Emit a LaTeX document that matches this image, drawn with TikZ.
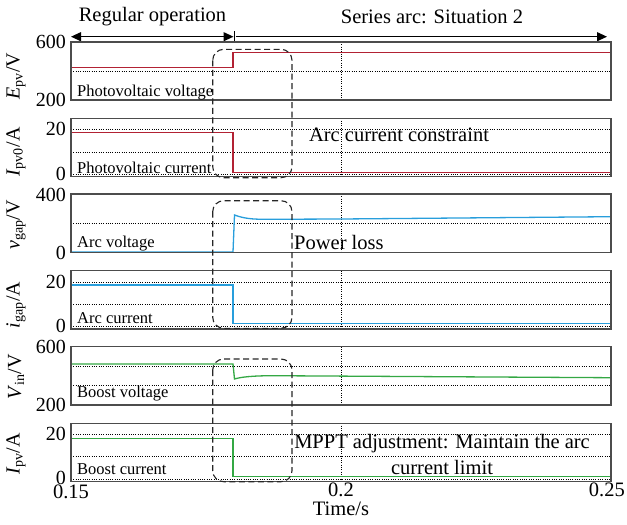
\documentclass[tikz,border=0pt]{standalone}
\usepackage{fontspec}
\setmainfont{Liberation Serif}
\usetikzlibrary{arrows.meta}

\tikzset{
  panel/.style={draw=black!70, line width=1.1pt},
  gridln/.style={black, line width=0.7pt, dash pattern=on 1pt off 1.3pt},
  sig/.style={line width=1.3pt},
  hilite/.style={draw=black!85, line width=1.1pt, dash pattern=on 6pt off 3.5pt, rounded corners=11pt},
  ticklab/.style={anchor=east, inner sep=0pt, font=\fontsize{20}{22}\selectfont},
  ylab/.style={rotate=90, inner sep=0pt, font=\fontsize{20}{22}\selectfont},
  inlab/.style={anchor=west, inner sep=0pt, font=\fontsize{16.5}{18}\selectfont},
  bigtext/.style={inner sep=0pt, font=\fontsize{20.5}{23}\selectfont},
  span/.style={line width=1.2pt, -{Triangle[length=10pt,width=9pt]}}
}
\definecolor{sigred}{RGB}{178,34,52}
\definecolor{sigblue}{RGB}{40,158,220}
\definecolor{siggreen}{RGB}{52,168,68}

\newcommand{\qty}[3]{\textit{#1}\textsubscript{#2}/#3}

\begin{document}
\begin{tikzpicture}[x=1pt, y=-1pt]
\useasboundingbox (0,0) rectangle (627,525);

% ---- phase arrows and titles
\node[bigtext] (treg) at (152.5,17) {Regular operation};
\node[bigtext] (tarc) at (432,17) {Series arc: Situation 2};
\coordinate (aL) at (71,36.7);
\coordinate (aM1) at (233.5,36.7);
\coordinate (aM2) at (235.5,36.7);
\coordinate (aR) at (607,36.7);
\coordinate (barT) at (234.5,31);
\coordinate (barB) at (234.5,42);
\draw[span, {Triangle[length=10pt,width=9pt]}-{Triangle[length=10pt,width=9pt]}] (aL) -- (aM1);
\draw[span] (aM2) -- (aR);
\draw[line width=1.1pt] (barT) -- (barB);

% ---- grid lines
% panel 1
\draw[gridln] (71,71) -- (611,71);
\draw[gridln] (341,42) -- (341,100);
% panel 2
\draw[gridln] (71,129.3) -- (611,129.3);
\draw[gridln] (71,152) -- (611,152);
\draw[gridln] (71,174.3) -- (611,174.3);
\draw[gridln] (341,118.3) -- (341,176.7);
% panel 3
\draw[gridln] (71,223.3) -- (611,223.3);
\draw[gridln] (341,194) -- (341,252.7);
% panel 4
\draw[gridln] (71,282) -- (611,282);
\draw[gridln] (71,304) -- (611,304);
\draw[gridln] (71,326.3) -- (611,326.3);
\draw[gridln] (341,270.7) -- (341,329);
% panel 5
\draw[gridln] (71,366.1) -- (611,366.1);
\draw[gridln] (71,385.5) -- (611,385.5);
\draw[gridln] (341,346.7) -- (341,405);
% panel 6
\draw[gridln] (71,434) -- (611,434);
\draw[gridln] (71,456.7) -- (611,456.7);
\draw[gridln] (71,479) -- (611,479);
\draw[gridln] (341,423.3) -- (341,481.7);

% ---- waveforms
\draw[sig, sigred] (71,67.7) -- (233,67.7) -- (233,52.7) -- (611,52.7);
\draw[sig, sigred] (71,132.7) -- (233,132.7) -- (233,172.3) -- (611,172.3);
\draw[sig, sigblue] (71,252) -- (233,252) -- (234.5,215)
  .. controls (244,218.5) and (252,219.3) .. (266,219.3) -- (341,219) -- (611,216.7);
\draw[sig, sigblue] (71,285) -- (233,285) -- (233,323.7) -- (611,323.7);
\draw[sig, siggreen] (71,364) -- (233,364) -- (234.5,379)
  .. controls (241,377) and (252,375.8) .. (272,375.7) -- (611,377.7);
\draw[sig, siggreen] (71,438.3) -- (233,438.3) -- (233,476.7) -- (611,476.7);

% frames drawn over the traces
\draw[panel] (71,42) rectangle (611,100);
\draw[panel] (71,118.3) rectangle (611,176.7);
\draw[panel] (71,194) rectangle (611,252.7);
\draw[panel] (71,270.7) rectangle (611,329);
\draw[panel] (71,346.7) rectangle (611,405);
\draw[panel] (71,423.3) rectangle (611,481.7);

% ---- highlighted transition windows
\draw[hilite] (212.7,49.3) rectangle (292,177.7);
\draw[hilite] (212.7,200.7) rectangle (292,328.3);
\draw[hilite] (212.7,359) rectangle (292,481.7);

% ---- y tick labels
\node[ticklab] (y1a) at (66,42) {600};
\node[ticklab] (y1b) at (66,100) {200};
\node[ticklab] (y2a) at (66,129.3) {20};
\node[ticklab] (y2b) at (66,174.3) {0};
\node[ticklab] (y3a) at (66,195) {400};
\node[ticklab] (y3b) at (66,252.7) {0};
\node[ticklab] (y4a) at (66,282) {20};
\node[ticklab] (y4b) at (66,326.3) {0};
\node[ticklab] (y5a) at (66,346.7) {600};
\node[ticklab] (y5b) at (66,405) {200};
\node[ticklab] (y6a) at (66,434) {20};
\node[ticklab] (y6b) at (66,478) {0};

% ---- y axis labels
\node[ylab] (l1) at (16,76) {\qty{E}{pv}{V}};
\node[ylab] (l2) at (16,152) {\qty{I}{pv0}{A}};
\node[ylab] (l3) at (16,225) {\qty{v}{gap}{V}};
\node[ylab] (l4) at (16,305) {\qty{i}{gap}{A}};
\node[ylab] (l5) at (16,377) {\qty{V}{in}{V}};
\node[ylab] (l6) at (16,454) {\qty{I}{pv}{A}};

% ---- x axis
\node[bigtext] (x1) at (71,492) {0.15};
\node[bigtext] (x2) at (341,490) {0.2};
\node[bigtext, anchor=east] (x3) at (625,490) {0.25};
\node[bigtext] (xt) at (341,509) {Time/s};

% ---- signal names inside panels
\node[inlab] (n1) at (77,93) {Photovoltaic voltage};
\node[inlab] (n2) at (77,167.7) {Photovoltaic current};
\node[inlab] (n3) at (77,243.3) {Arc voltage};
\node[inlab] (n4) at (77,318.3) {Arc current};
\node[inlab] (n5) at (77,394) {Boost voltage};
\node[inlab] (n6) at (77,469.3) {Boost current};

% ---- annotations
\node[bigtext] (c1) at (399,135) {Arc current constraint};
\node[bigtext, anchor=west] (c2) at (294,242.7) {Power loss};
\node[bigtext, align=center, font=\fontsize{20.5}{25.5}\selectfont] (c3) at (442,454.5) {MPPT adjustment: Maintain the arc\\current limit};
\end{tikzpicture}
\end{document}
